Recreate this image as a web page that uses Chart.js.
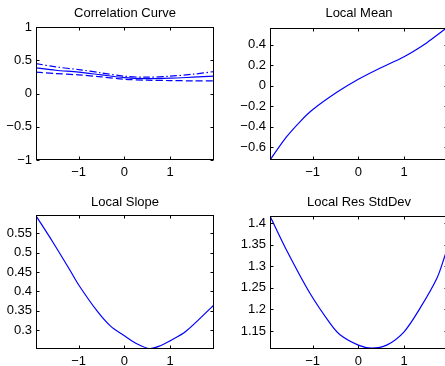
<!DOCTYPE html>
<html><head><meta charset="utf-8">
<script src="https://cdn.jsdelivr.net/npm/chart.js@4/dist/chart.umd.min.js"></script>
<style>
html,body{margin:0;padding:0;background:#fff;overflow:hidden;width:445px;height:366px;position:relative;}
canvas{position:absolute;}
</style></head><body>
<canvas id="c1" width="222" height="183" style="left:0;top:0"></canvas>
<canvas id="c2" width="235" height="183" style="left:222px;top:0"></canvas>
<canvas id="c3" width="222" height="183" style="left:0;top:183px"></canvas>
<canvas id="c4" width="235" height="183" style="left:222px;top:183px"></canvas>
<script>
// ---- data ----
const xMin = -1.93, xMax = 1.96;
const xTicks = [-1, 0, 1];

const corrX = [-1.93, -1.5, -1, -0.5, 0, 0.5, 1, 1.5, 1.96];
const corrMid = [0.385, 0.35, 0.32, 0.28, 0.24, 0.225, 0.23, 0.245, 0.26];
const corrUpper = [0.45, 0.40, 0.36, 0.31, 0.26, 0.245, 0.26, 0.29, 0.33];
const corrLower = [0.32, 0.30, 0.28, 0.25, 0.215, 0.20, 0.195, 0.19, 0.19];
const corrTicks = [-1, -0.5, 0, 0.5, 1];

const meanX = [-1.93, -1.57, -1.25, -1, -0.47, 0, 0.47, 1, 1.5, 1.9, 1.96];
const meanY = [-0.725, -0.50, -0.34, -0.235, -0.065, 0.062, 0.17, 0.283, 0.42, 0.553, 0.563];
const meanTicks = [-0.6, -0.4, -0.2, 0, 0.2, 0.4];

const slopeX = [-1.93, -1.567, -1.2, -1, -0.6, -0.3, 0, 0.25, 0.55, 0.8, 1, 1.34, 1.96];
const slopeY = [0.595, 0.528, 0.457, 0.417, 0.350, 0.31, 0.285, 0.266, 0.252, 0.26, 0.272, 0.296, 0.365];
const slopeTicks = [0.3, 0.35, 0.4, 0.45, 0.5, 0.55];

const sdX = [-1.93, -1.57, -1.06, -0.62, -0.4, 0, 0.29, 0.62, 1, 1.35, 1.72, 1.9, 1.96];
const sdY = [1.417, 1.338, 1.238, 1.168, 1.141, 1.117, 1.11, 1.117, 1.148, 1.203, 1.273, 1.327, 1.345];
const sdTicks = [1.15, 1.2, 1.25, 1.3, 1.35, 1.4];

// ---- helpers ----
const FAMILY = '"Liberation Sans", Arial, Helvetica, sans-serif';
const FONT = {family: FAMILY, size: 13};
const fmt = v => String(v).replace('-', '\u2212');
const pts = (xs, ys) => xs.map((x, i) => ({x: x, y: ys[i]}));

const framePlugin = {
  id: 'frame',
  afterDatasetsDraw(chart) {
    const ctx = chart.ctx, a = chart.chartArea, sx = chart.scales.x, sy = chart.scales.y;
    const L = Math.round(a.left) + 0.5, R = Math.round(a.right) - 0.5;
    const T = Math.round(a.top) + 0.5, B = Math.round(a.bottom) - 0.5;
    const tl = 3;
    ctx.save();
    ctx.strokeStyle = '#000';
    ctx.lineWidth = 1;
    ctx.beginPath();
    sx.ticks.forEach(t => {
      const p = Math.round(sx.getPixelForValue(t.value)) + 0.5;
      ctx.moveTo(p, B); ctx.lineTo(p, B - tl);
      ctx.moveTo(p, T); ctx.lineTo(p, T + tl);
    });
    sy.ticks.forEach(t => {
      const p = Math.round(sy.getPixelForValue(t.value)) + 0.5;
      ctx.moveTo(L, p); ctx.lineTo(L + tl, p);
      ctx.moveTo(R, p); ctx.lineTo(R - tl, p);
    });
    ctx.stroke();
    ctx.strokeRect(L, T, R - L, B - T);
    ctx.restore();
  }
};

const titlePlugin = {
  id: 'mtitle',
  afterDraw(chart, args, opts) {
    const ctx = chart.ctx, a = chart.chartArea;
    ctx.save();
    ctx.fillStyle = '#000';
    ctx.font = '13px ' + FAMILY;
    ctx.textAlign = 'center';
    ctx.textBaseline = 'middle';
    ctx.fillText(opts.text, (a.left + a.right) / 2, opts.y);
    ctx.restore();
  }
};

function line(data, dash) {
  return {data: data, borderColor: '#0000ff', borderWidth: 1.2, pointRadius: 0,
          tension: 0.3, fill: false, borderDash: dash || []};
}

function makeChart(id, datasets, title, yMin, yMax, yTicks, cfg) {
  new Chart(document.getElementById(id), {
    type: 'line',
    data: {datasets: datasets},
    plugins: [framePlugin, titlePlugin],
    options: {
      responsive: false, animation: false,
      layout: {padding: {left: 0, right: cfg.rightPad, top: cfg.top, bottom: 0}},
      plugins: {
        legend: {display: false}, tooltip: {enabled: false}, title: {display: false},
        mtitle: {text: title, y: cfg.titleY}
      },
      scales: {
        x: {type: 'linear', min: xMin, max: xMax,
            afterBuildTicks: s => { s.ticks = xTicks.map(v => ({value: v})); },
            afterFit: s => { s.height = cfg.xHeight; },
            grid: {display: false, drawTicks: false}, border: {display: false},
            ticks: {padding: 4.5, autoSkip: false, maxRotation: 0, color: '#000', font: FONT, callback: fmt}},
        y: {type: 'linear', min: yMin, max: yMax,
            afterBuildTicks: s => { s.ticks = yTicks.map(v => ({value: v})); },
            afterFit: s => { s.width = cfg.yWidth; },
            grid: {display: false, drawTicks: false}, border: {display: false},
            ticks: {padding: 4, autoSkip: false, color: '#000', font: FONT, callback: fmt}}
      }
    }
  });
}

makeChart('c1', [
  line(pts(corrX, corrMid)),
  line(pts(corrX, corrUpper), [7, 2.5, 1.5, 2.5]),
  line(pts(corrX, corrLower), [7, 3])
], 'Correlation Curve', -1, 1, corrTicks,
  {rightPad: 8, yWidth: 36, xHeight: 23, top: 27, titleY: 13});

makeChart('c2', [line(pts(meanX, meanY))], 'Local Mean', -0.725, 0.563, meanTicks,
  {rightPad: 9, yWidth: 48, xHeight: 23, top: 28, titleY: 13});

makeChart('c3', [line(pts(slopeX, slopeY))], 'Local Slope', 0.251, 0.597, slopeTicks,
  {rightPad: 8, yWidth: 36, xHeight: 17, top: 32, titleY: 19});

makeChart('c4', [line(pts(sdX, sdY))], 'Local Res StdDev', 1.108, 1.417, sdTicks,
  {rightPad: 9, yWidth: 48, xHeight: 17, top: 33, titleY: 19});
</script>
</body></html>
